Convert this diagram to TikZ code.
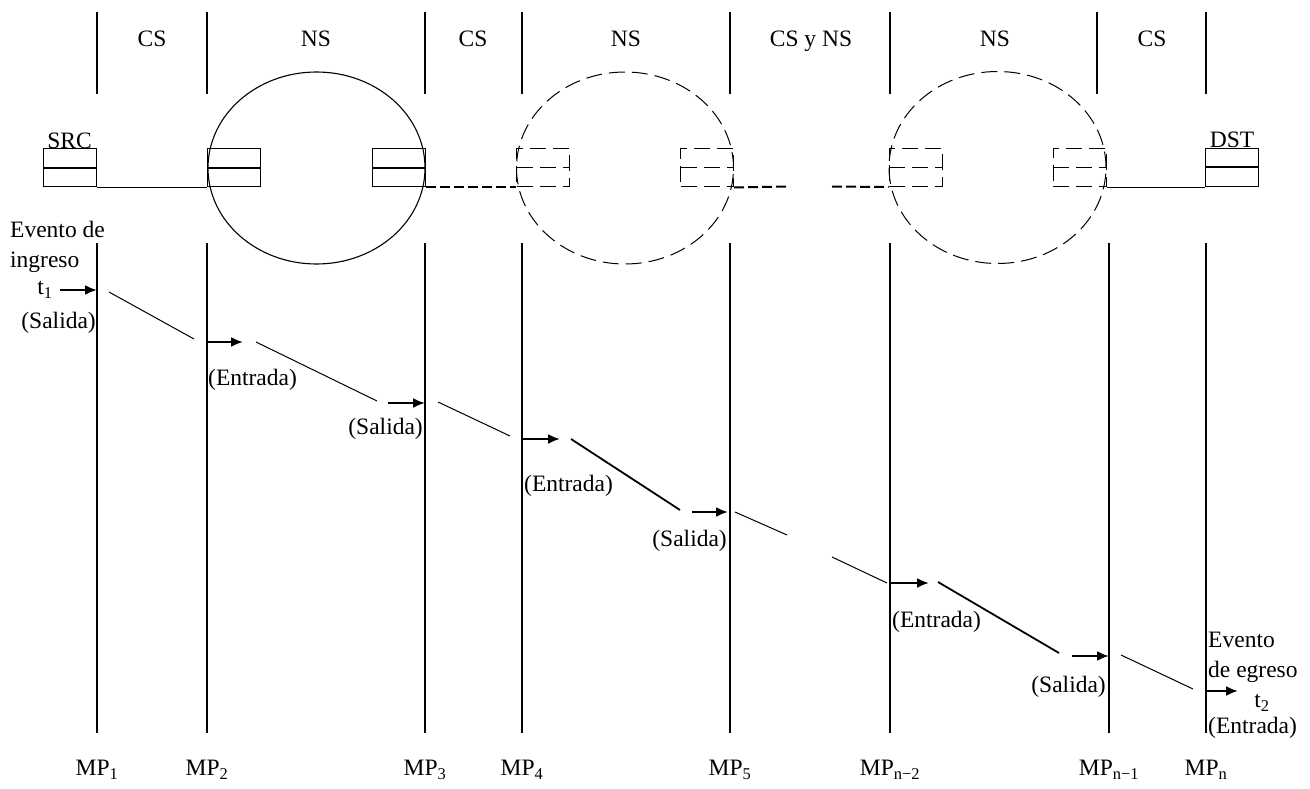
\documentclass[tikz,border=0pt]{standalone}
\usepackage{fontspec}
\setmainfont{Liberation Serif}
\usetikzlibrary{arrows.meta,positioning,shapes.geometric}

\begin{document}
\begin{tikzpicture}
    [
        x=1pt, y=-1pt,
        every node/.style={font=\fontsize{23.5}{30}\selectfont, inner sep=0pt},
        divider/.style={line width=2pt},
        cloud/.style={ellipse, draw, line width=1.1pt, minimum width=217pt, minimum height=192pt},
        ghost/.style={line width=1pt, dash pattern=on 16pt off 7pt},
        queue/.style={draw, minimum width=53pt, minimum height=38pt,
            path picture={\draw[#1] (path picture bounding box.west) -- (path picture bounding box.east);}},
        queue/.default={line width=2pt},
        link/.style={line width=2pt, dash pattern=on 10pt off 4pt},
        ev/.style={-{Latex[length=12pt,width=10pt]}, line width=2.2pt},
    ]
    \useasboundingbox (0,0) rectangle (1310,789);

    % segments
    \foreach \x in {97,207,425,522,730,890,1097,1206}
        \draw[divider] (\x,12) -- (\x,94);
    \node[anchor=base] (seg1) at (152,47) {CS};
    \node[anchor=base] (seg2) at (316,47) {NS};
    \node[anchor=base] (seg3) at (473,47) {CS};
    \node[anchor=base] (seg4) at (626,47) {NS};
    \node[anchor=base] (seg5) at (811,47) {CS y NS};
    \node[anchor=base] (seg6) at (995,47) {NS};
    \node[anchor=base] (seg7) at (1152,47) {CS};

    % networks and queues
    \node[cloud] (cloud1) at (316.5,168) {};
    \node[cloud, ghost] (cloud2) at (625,168) {};
    \node[cloud, ghost] (cloud3) at (997.5,167.5) {};

    \node[queue, line width=1pt] (src) at (69.5,168) {};
    \node[above=0pt of src] (srclabel) {SRC};
    \node[queue, line width=1pt, anchor=west] (in1) at (cloud1.west) {};
    \node[queue, line width=1pt, anchor=east] (out1) at (cloud1.east) {};
    \node[queue=ghost, ghost, anchor=west] (in2) at (cloud2.west) {};
    \node[queue=ghost, ghost, anchor=east] (out2) at (cloud2.east) {};
    \node[queue=ghost, ghost, anchor=west] (in3) at (cloud3.west) {};
    \node[queue=ghost, ghost, anchor=east] (out3) at (cloud3.east) {};
    \node[queue, line width=1pt] (dst) at (1232,167.5) {};
    \node[above=0pt of dst] (dstlabel) {DST};

    \coordinate (cut1) at (787,186.5);
    \coordinate (cut2) at (832,186.5);
    \draw (src.south east) -- (in1.south west);
    \draw[link] (out1.south east) -- (in2.south west);
    \draw[link] (out2.south east) -- (cut1);
    \draw[link] (cut2) -- (in3.south west);
    \draw (out3.south east) -- (dst.south west);

    % measurement points
    \foreach \x/\n/\sub in {97/1/1, 207/2/2, 425/3/3, 522/4/4, 730/5/5, 890/6/n−2, 1109/7/n−1, 1206/8/n}
    {
        \draw[divider] (\x,243) coordinate (top\n) -- (\x,733) coordinate (bot\n);
        \node (mp\n) at (\x,770) {MP\textsubscript{\sub}};
    }

    % events
    \foreach \a/\b/\y [count=\i] in {60/97/290, 207/243/342, 388/425/403, 522/560/439,
                                      692/728/512, 890/929/583, 1072/1109/656, 1206/1238/691}
        \draw[ev] (\a,\y) coordinate (s\i) -- (\b,\y) coordinate (e\i);
    \foreach \a/\b/\c/\d/\w in {109/292/194/339/1pt, 256/342/377/401/1pt, 438/402/510/436/1pt,
                                571/439/680/510/1.8pt, 735/512/787/535/1pt, 832/557/887/583/1pt,
                                938/582/1059/653/1.8pt, 1121/655/1193/689/1pt}
        \draw[line width=\w] (\a,\b) -- (\c,\d);

    \node[anchor=west, align=left] (ingreso) at (10,247) {Evento de\\ingreso};
    \node (t1) at (45,290) {t\textsubscript{1}};
    \node[anchor=east] (sal1) at (96,323) {(Salida)};
    \node[anchor=west] (ent2) at (208,380) {(Entrada)};
    \node[anchor=east] (sal3) at (423,429) {(Salida)};
    \node[anchor=west] (ent4) at (524,486) {(Entrada)};
    \node[anchor=east] (sal5) at (727,541) {(Salida)};
    \node[anchor=west] (ent6) at (892,622) {(Entrada)};
    \node[anchor=east] (sal7) at (1106,687) {(Salida)};
    \node[anchor=west, align=left] (egreso) at (1208,657) {Evento\\de egreso};
    \node (t2) at (1262,703) {t\textsubscript{2}};
    \node[anchor=west] (ent8) at (1208,728) {(Entrada)};
\end{tikzpicture}
\end{document}
